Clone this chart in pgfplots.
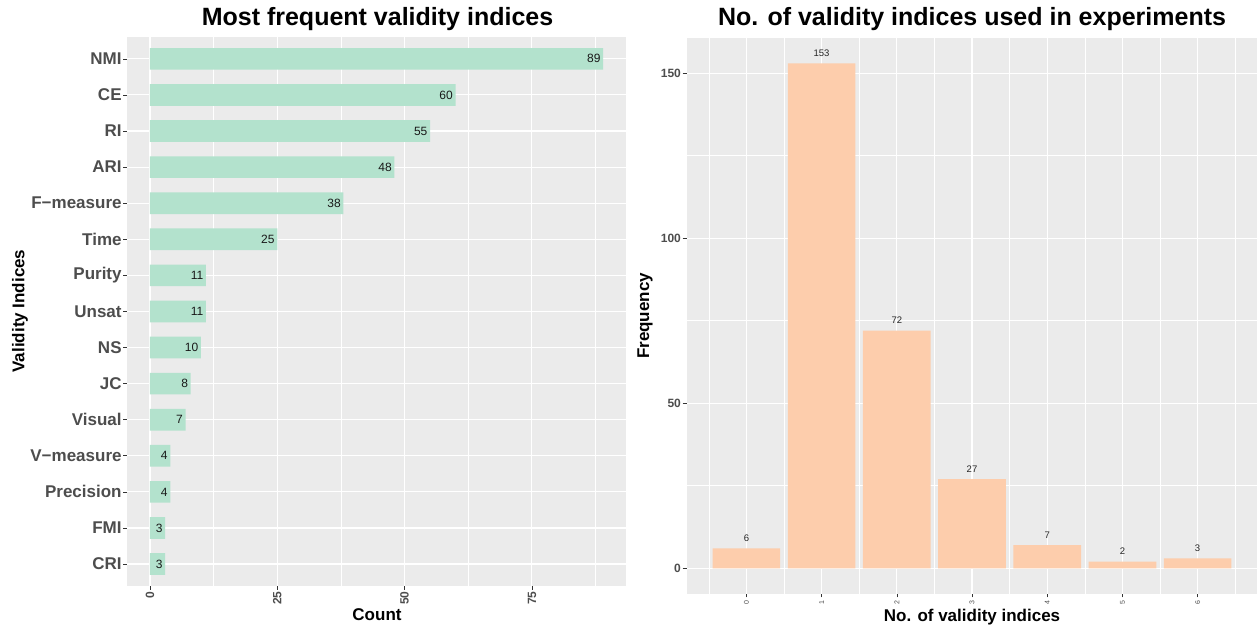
\documentclass[border=0pt]{standalone}
\usepackage{fontspec}
\setmainfont{Liberation Sans}
\usepackage{pgfplots}
\pgfplotsset{compat=1.18}
\definecolor{bg}{HTML}{EBEBEB}
\definecolor{barA}{HTML}{B3E2CD}
\definecolor{barB}{HTML}{FDCDAC}
\definecolor{tl}{HTML}{4D4D4D}
\definecolor{tk}{HTML}{333333}
\pgfplotsset{gg/.style={
  scale only axis,
  axis background/.style={fill=bg},
  axis line style={draw=none},
  grid=both,
  major grid style={white, line width=1.1bp},
  minor grid style={white, line width=0.55bp},
  tick align=outside,
  major tick length=4bp,
  minor tick length=0pt,
  tick style={tk, line width=0.6bp},
  tick pos=left,
  /pgf/number format/assume math mode=true,
}}
\begin{document}
\begin{tikzpicture}
\useasboundingbox (0,0) rectangle (1257bp,629bp);
\begin{axis}[gg, at={(127.3bp,43.3bp)}, anchor=south west, width=498.6bp, height=548.5bp,
  xbar, bar width=0.6, xmin=-4.45, xmax=93.45, ymin=-0.6, ymax=14.6,
  xtick={0,25,50,75}, xticklabels={0,25,50,75}, minor xtick={12.5,37.5,62.5,87.5},
  ytick={0,...,14}, yticklabels={CRI,FMI,Precision,V−measure,Visual,JC,NS,Unsat,Purity,Time,F−measure,ARI,RI,CE,NMI},
  xticklabel style={rotate=90, anchor=east, inner xsep=1.5bp, font=\fontsize{12bp}{12bp}\selectfont\bfseries, text=tl},
  yticklabel style={inner xsep=1.5bp, font=\fontsize{17bp}{17bp}\selectfont\bfseries, text=tl},
  point meta=x,
  nodes near coords,
  every node near coord/.append style={anchor=east, xshift=-2.5bp, font=\fontsize{12bp}{12bp}\selectfont, text=black!90, inner sep=0pt},
]
\addplot[fill=barA, draw=none] coordinates {(3,0) (3,1) (4,2) (4,3) (7,4) (8,5) (10,6) (11,7) (11,8) (25,9) (38,10) (48,11) (55,12) (60,13) (89,14)};
\end{axis}
\begin{axis}[gg, at={(686.6bp,35.5bp)}, anchor=south west, width=570.8bp, height=555.4bp,
  ybar, bar width=0.9, xmin=-0.795, xmax=6.795, ymin=-7.65, ymax=160.65,
  xtick={0,...,6}, xticklabels={0,1,2,3,4,5,6}, minor xtick={-0.5,0.5,...,6.5},
  ytick={0,50,100,150}, yticklabels={0,50,100,150}, minor ytick={25,75,125},
  xticklabel style={rotate=90, anchor=east, font=\fontsize{7bp}{7bp}\selectfont, text=tl},
  yticklabel style={inner xsep=1.5bp, font=\fontsize{12bp}{12bp}\selectfont\bfseries, text=tl},
  nodes near coords,
  every node near coord/.append style={anchor=south, yshift=6.5bp, font=\fontsize{9.5bp}{9.5bp}\selectfont, text=black!85, inner sep=0pt},
]
\addplot[fill=barB, draw=none] coordinates {(0,6) (1,153) (2,72) (3,27) (4,7) (5,2) (6,3)};
\end{axis}
\node[font=\fontsize{25bp}{25bp}\selectfont\bfseries, anchor=base] at (377.5bp,603bp) {Most frequent validity indices};
\node[font=\fontsize{25bp}{25bp}\selectfont\bfseries, anchor=base] at (972bp,603bp) {No. of validity indices used in experiments};
\node[font=\fontsize{17bp}{17bp}\selectfont\bfseries, rotate=90] at (20bp,318bp) {Validity Indices};
\node[font=\fontsize{17bp}{17bp}\selectfont\bfseries] at (377bp,14bp) {Count};
\node[font=\fontsize{17bp}{17bp}\selectfont\bfseries, rotate=90] at (645bp,313bp) {Frequency};
\node[font=\fontsize{17bp}{17bp}\selectfont\bfseries] at (972bp,12bp) {No. of validity indices};
\end{tikzpicture}
\end{document}
